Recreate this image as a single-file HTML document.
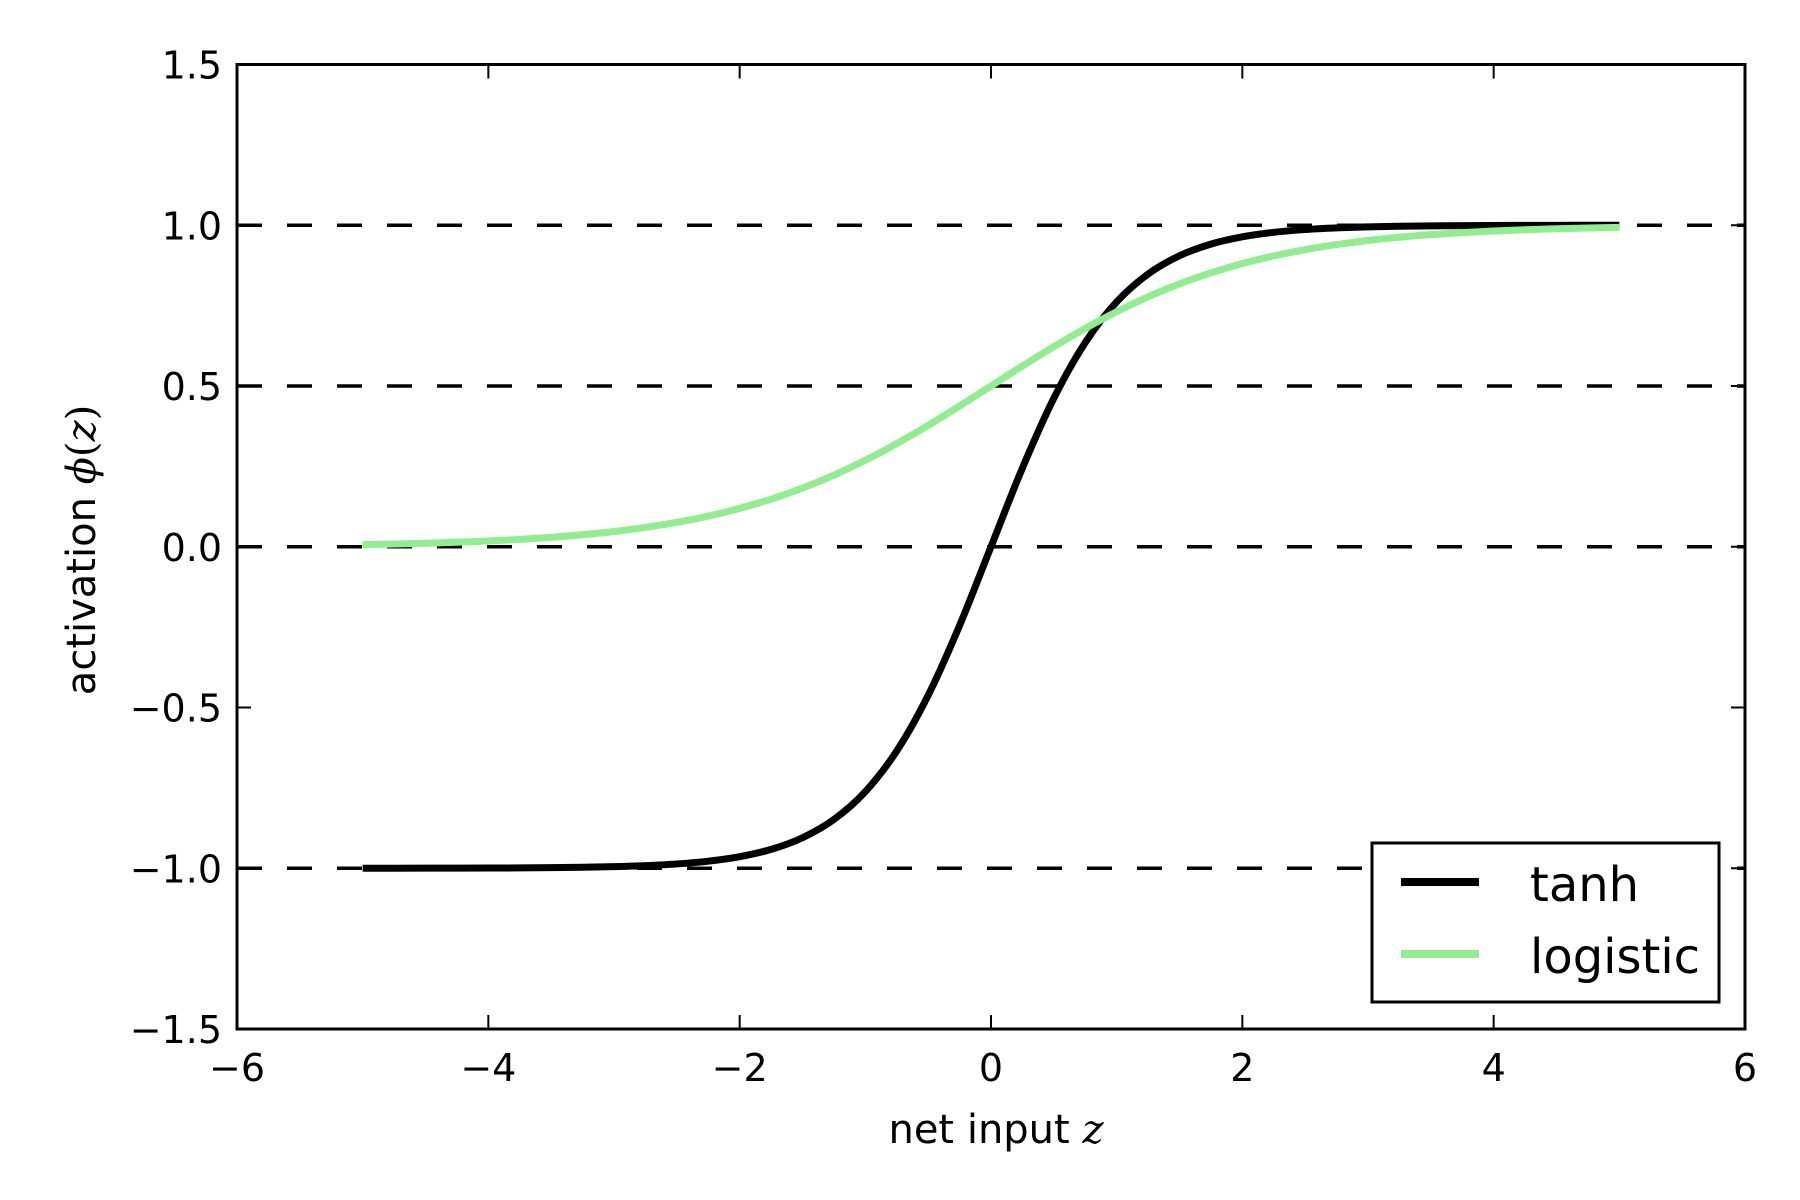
<!DOCTYPE html>
<html><head><meta charset="utf-8"><style>
html,body{margin:0;padding:0;background:#fff;}
svg{display:block;font-family:"DejaVu Sans","Liberation Sans",sans-serif;}
</style></head><body>
<svg id="chart" width="1800" height="1200" viewBox="0 0 1800 1200" xmlns="http://www.w3.org/2000/svg">
<rect width="1800" height="1200" fill="#fff"/>
<g id="grid"></g>
<g id="series"></g>
<g id="ticks"></g>
<rect x="237" y="64.5" width="1508" height="964.5" fill="none" stroke="#000" stroke-width="3"/>
<text x="996" y="1143" font-size="40" text-anchor="middle">net input <tspan font-family="DejaVu Serif, serif" font-style="italic">z</tspan></text>
<text transform="translate(95,550) rotate(-90)" font-size="40" text-anchor="middle">activation <tspan font-family="DejaVu Serif, serif" font-style="italic">ϕ</tspan><tspan font-family="DejaVu Serif, serif">(</tspan><tspan font-family="DejaVu Serif, serif" font-style="italic">z</tspan><tspan font-family="DejaVu Serif, serif">)</tspan></text>
<g>
<rect x="1372" y="843" width="347" height="159" fill="#fff" stroke="#000" stroke-width="3"/>
<line x1="1401" y1="882" x2="1479" y2="882" stroke="#000" stroke-width="8"/>
<text x="1530" y="901" font-size="48">tanh</text>
<line x1="1401" y1="954" x2="1479" y2="954" stroke="#90ee90" stroke-width="8"/>
<text x="1530" y="973" font-size="48">logistic</text>
</g>
</svg>
<script>
const zValues = [-5,-4.75,-4.5,-4.25,-4,-3.75,-3.5,-3.25,-3,-2.75,-2.5,-2.25,-2,-1.75,-1.5,-1.25,-1,-0.75,-0.5,-0.25,0,0.25,0.5,0.75,1,1.25,1.5,1.75,2,2.25,2.5,2.75,3,3.25,3.5,3.75,4,4.25,4.5,4.75,5];
const tanhValues = [-0.9999,-0.9999,-0.9998,-0.9996,-0.9993,-0.9989,-0.9982,-0.9970,-0.9951,-0.9918,-0.9866,-0.9780,-0.9640,-0.9414,-0.9051,-0.8483,-0.7616,-0.6351,-0.4621,-0.2449,0,0.2449,0.4621,0.6351,0.7616,0.8483,0.9051,0.9414,0.9640,0.9780,0.9866,0.9918,0.9951,0.9970,0.9982,0.9989,0.9993,0.9996,0.9998,0.9999,0.9999];
const logisticValues = [0.0067,0.0086,0.0110,0.0141,0.0180,0.0230,0.0293,0.0373,0.0474,0.0601,0.0759,0.0953,0.1192,0.1480,0.1824,0.2227,0.2689,0.3208,0.3775,0.4378,0.5,0.5622,0.6225,0.6792,0.7311,0.7773,0.8176,0.8520,0.8808,0.9047,0.9241,0.9399,0.9526,0.9627,0.9707,0.9770,0.9820,0.9859,0.9890,0.9914,0.9933];
const xTickValues = [-6,-4,-2,0,2,4,6];
const xTickLabels = ["−6","−4","−2","0","2","4","6"];
const yTickValues = [-1.5,-1,-0.5,0,0.5,1,1.5];
const yTickLabels = ["−1.5","−1.0","−0.5","0.0","0.5","1.0","1.5"];
const refLineValues = [1,0.5,0,-1];

const L=237,R=1745,T=64.5,B=1029;
const xScale = v => L + (v+6)/12*(R-L);
const yScale = v => B - (v+1.5)/3*(B-T);
const NS="http://www.w3.org/2000/svg";
function mk(tag, attrs, parent){const e=document.createElementNS(NS,tag);for(const k in attrs)e.setAttribute(k,attrs[k]);parent.appendChild(e);return e;}

const grid=document.getElementById('grid');
refLineValues.forEach(v=>{
  const l=mk('line',{x1:L,x2:R,y1:yScale(v),y2:yScale(v),stroke:'#000','stroke-width':3.5,'stroke-dasharray':'25 25'},grid);
  
  
});

function smoothPath(xs, ys){
  const p=xs.map((x,i)=>[xScale(x),yScale(ys[i])]);
  let d='M'+p[0][0]+','+p[0][1];
  for(let i=0;i<p.length-1;i++){
    const p0=p[Math.max(0,i-1)],p1=p[i],p2=p[i+1],p3=p[Math.min(p.length-1,i+2)];
    const c1=[p1[0]+(p2[0]-p0[0])/6,p1[1]+(p2[1]-p0[1])/6];
    const c2=[p2[0]-(p3[0]-p1[0])/6,p2[1]-(p3[1]-p1[1])/6];
    d+=' C'+c1[0]+','+c1[1]+' '+c2[0]+','+c2[1]+' '+p2[0]+','+p2[1];
  }
  return d;
}
const series=document.getElementById('series');
const tanhLine=mk('path',{d:smoothPath(zValues,tanhValues),fill:'none',stroke:'#000','stroke-width':7},series);


const logLine=mk('path',{d:smoothPath(zValues,logisticValues),fill:'none',stroke:'#90ee90','stroke-width':7},series);



const ticks=document.getElementById('ticks');
xTickValues.forEach((v,i)=>{
  const x=xScale(v);
  const t1=mk('line',{x1:x,x2:x,y1:B,y2:B-14,stroke:'#000','stroke-width':2},ticks);
  
  
  const t2=mk('line',{x1:x,x2:x,y1:T,y2:T+14,stroke:'#000','stroke-width':2},ticks);
  
  
  const tx=mk('text',{x:x,y:1081,'font-size':38,'text-anchor':'middle'},ticks);
  tx.textContent=xTickLabels[i];
  
  
});
yTickValues.forEach((v,i)=>{
  const y=yScale(v);
  const t1=mk('line',{x1:L,x2:L+14,y1:y,y2:y,stroke:'#000','stroke-width':2},ticks);
  
  
  const t2=mk('line',{x1:R,x2:R-14,y1:y,y2:y,stroke:'#000','stroke-width':2},ticks);
  
  
  const tx=mk('text',{x:222,y:y+14,'font-size':38,'text-anchor':'end'},ticks);
  tx.textContent=yTickLabels[i];
  
  
});
</script>
</body></html>
